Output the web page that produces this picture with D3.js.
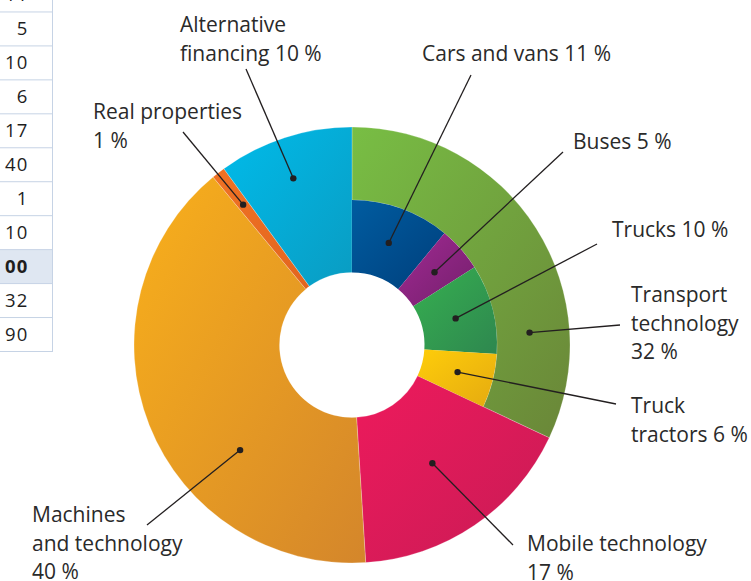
<!DOCTYPE html>
<html>
<head>
<meta charset="utf-8">
<script src="https://cdn.jsdelivr.net/npm/d3@7"></script>
<style>
  html, body { margin: 0; padding: 0; background: #ffffff; }
  svg { display: block; }
</style>
</head>
<body>
<svg id="chart" width="751" height="581"></svg>
<script>
// ---------- DATA ----------
const outerCategories = ["Transport technology", "Mobile technology", "Machines and technology", "Real properties", "Alternative financing"];
const outerValues = [32, 17, 40, 1, 10];
const innerCategories = ["Cars and vans", "Buses", "Trucks", "Truck tractors"];
const innerValues = [11, 5, 10, 6];
const tableValues = ["11", "5", "10", "6", "17", "40", "1", "10", "00", "32", "90"];

// ---------- STYLE / LAYOUT ----------
const outerColors = [["#78be44", "#6a8638"], ["#ee1a5c", "#c81b55"], ["#f9b01b", "#d4862b"], ["#f07224", "#e2651f"], ["#00bbea", "#0a9cc2"]];
const innerColors = [["#005ca0", "#003f7c"], ["#a02a92", "#741f6c"], ["#36b050", "#2e874f"], ["#fecd0a", "#e5aa10"]];

const cx = 352, cy = 345;
const rHole = 72.5, rMid = 145, rOuter = 218;

const svg = d3.select("#chart");
const defs = svg.append("defs");

function grad(id, c) {
  const g = defs.append("linearGradient").attr("id", id)
    .attr("x1", 0).attr("y1", 0).attr("x2", 1).attr("y2", 1);
  g.append("stop").attr("offset", "0%").attr("stop-color", c[0]);
  g.append("stop").attr("offset", "100%").attr("stop-color", c[1]);
}
outerColors.forEach((c, i) => grad("og" + i, c));
innerColors.forEach((c, i) => grad("ig" + i, c));

// ---------- TABLE (partial, left edge) ----------
const rowY = d3.scaleBand().domain(d3.range(tableValues.length)).range([-22, 351.5]);
const tbl = svg.append("g");
tbl.selectAll("rect.hl").data(tableValues.filter(v => v === "00")).enter().append("rect")
  .attr("x", 0).attr("y", rowY(tableValues.indexOf("00"))).attr("width", 52).attr("height", rowY.bandwidth())
  .attr("fill", "#dfe7f2");
tbl.selectAll("line.h").data(d3.range(1, tableValues.length + 1)).enter().append("line")
  .attr("x1", 0).attr("x2", 52)
  .attr("y1", i => (i < tableValues.length ? rowY(i) : 351.5))
  .attr("y2", i => (i < tableValues.length ? rowY(i) : 351.5))
  .attr("stroke", "#c6d3e5").attr("stroke-width", 1);
tbl.append("line").attr("x1", 52.5).attr("x2", 52.5).attr("y1", 0).attr("y2", 352)
  .attr("stroke", "#c6d3e5").attr("stroke-width", 1);
tbl.selectAll("text").data(tableValues).enter().append("text")
  .attr("x", 28.5).attr("y", (d, i) => rowY(i) + rowY.bandwidth() / 2 + 6.5)
  .attr("text-anchor", "end")
  .attr("font-family", "'Open Sans', sans-serif").attr("font-size", 18.5)
  .attr("letter-spacing", 1.2)
  .attr("font-weight", d => d === "00" ? "bold" : "normal")
  .attr("fill", "#1e1e1e")
  .text(d => d);

// ---------- DONUT ----------
const total = d3.sum(outerValues);
const angle = d3.scaleLinear().domain([0, total]).range([0, 2 * Math.PI]);

const outerPie = d3.pie().sort(null).value(d => d).startAngle(0).endAngle(2 * Math.PI);
const outerArcs = outerPie(outerValues);
const innerPie = d3.pie().sort(null).value(d => d).startAngle(0).endAngle(angle(d3.sum(innerValues)));
const innerArcs = innerPie(innerValues);

const g = svg.append("g").attr("transform", `translate(${cx},${cy})`);

const outerArcGen = d3.arc()
  .innerRadius((d, i) => i === 0 ? rMid : rHole)
  .outerRadius(rOuter);
const innerArcGen = d3.arc().innerRadius(rHole).outerRadius(rMid);

g.selectAll("path.outer").data(outerArcs).enter().append("path")
  .attr("class", "outer")
  .attr("d", (d, i) => outerArcGen(d, i))
  .attr("fill", (d, i) => `url(#og${i})`)
  .attr("stroke", "#ffffff").attr("stroke-width", 0.4).attr("stroke-opacity", 0.6);

g.selectAll("path.inner").data(innerArcs).enter().append("path")
  .attr("class", "inner")
  .attr("d", innerArcGen)
  .attr("fill", (d, i) => `url(#ig${i})`);

// ---------- ANNOTATIONS ----------
function polar(a, r) { return [Math.sin(a) * r, -Math.cos(a) * r]; }
const deg = d => d * Math.PI / 180;

const annotations = [
  { arc: innerArcs[0], r: 108.5, end: [471, 75], lx: 422, ly: 61, lines: [innerCategories[0] + " " + innerValues[0] + " %"] },
  { arc: innerArcs[1], r: 110, end: [563, 152], lx: 573, ly: 149, lines: [innerCategories[1] + " " + innerValues[1] + " %"] },
  { arc: innerArcs[2], r: 107, end: [597, 244], lx: 612, ly: 237, lines: [innerCategories[2] + " " + innerValues[2] + " %"] },
  { arc: innerArcs[3], r: 109, end: [616, 404], lx: 631, ly: 413, lines: ["Truck", "tractors " + innerValues[3] + " %"] },
  { a: deg(86), r: 178, end: [620, 325], lx: 631, ly: 302, lines: ["Transport", "technology", outerValues[0] + " %"] },
  { arc: outerArcs[1], r: 143, end: [513, 545], lx: 527, ly: 551, lines: ["Mobile technology", outerValues[1] + " %"] },
  { a: deg(226.8), r: 153.5, end: [147, 525], lx: 32, ly: 522, lines: ["Machines", "and technology", outerValues[2] + " %"] },
  { arc: outerArcs[3], r: 177.6, end: [183, 132], lx: 93, ly: 119, lines: ["Real properties", outerValues[3] + " %"] },
  { a: deg(340.6), r: 176.7, end: [246, 69], lx: 180, ly: 32, lines: ["Alternative", "financing " + outerValues[4] + " %"] }
];

const ann = svg.append("g");
annotations.forEach(an => {
  const a = an.a !== undefined ? an.a : (an.arc.startAngle + an.arc.endAngle) / 2;
  const p = polar(a, an.r);
  const dx = cx + p[0], dy = cy + p[1];
  ann.append("line")
    .attr("x1", dx).attr("y1", dy).attr("x2", an.end[0]).attr("y2", an.end[1])
    .attr("stroke", "#231f20").attr("stroke-width", 1.3);
  ann.append("circle").attr("cx", dx).attr("cy", dy).attr("r", 3.2).attr("fill", "#231f20");
  const t = ann.append("text")
    .attr("x", an.lx).attr("y", an.ly)
    .attr("font-family", "'Open Sans', sans-serif").attr("font-size", 21)
    .attr("fill", "#2a2a2a");
  an.lines.forEach((l, i) => {
    t.append("tspan").attr("x", an.lx).attr("dy", i === 0 ? 0 : 28.6).text(l);
  });
});
</script>
</body>
</html>
